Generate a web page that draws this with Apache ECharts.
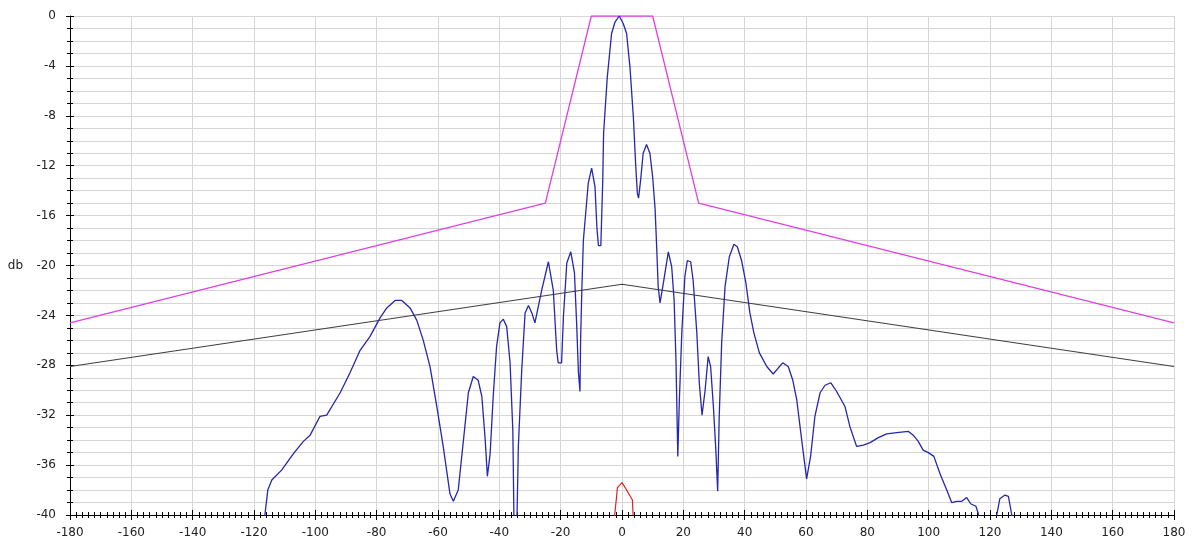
<!DOCTYPE html>
<html>
<head>
<meta charset="utf-8">
<script src="https://cdn.jsdelivr.net/npm/echarts@6/dist/echarts.min.js"></script>
<style>
html,body{margin:0;padding:0;background:#fff;}
#chart{width:1192px;height:547px;}
</style>
</head>
<body>
<div id="chart"></div>
<script>
// Angle (deg) / level (db) pairs
var maskData = [[-180,-24.6],[-25,-15],[-10,0],[10,0],[25,-15],[180,-24.6]];
var limitData = [[-180,-28.1],[0,-21.5],[180,-28.1]];
var redData = [[-2.6,-40.5],[-1.8,-38.6],[-1.5,-37.8],[0,-37.4],[1.5,-38.0],[3.4,-38.8],[3.7,-40.5]];
var blueData = [
  [-116.8,-40.5],[-116.4,-39.9],[-115.5,-38.0],[-114.2,-37.2],[-111.0,-36.4],[-107.2,-35.1],
  [-103.9,-34.1],[-101.7,-33.6],[-98.5,-32.1],[-96.3,-32.0],[-91.9,-30.2],[-88.7,-28.6],
  [-85.4,-26.8],[-82.2,-25.7],[-78.9,-24.2],[-76.7,-23.4],[-74.0,-22.8],[-71.8,-22.8],
  [-69.1,-23.4],[-66.9,-24.4],[-64.8,-26.0],[-62.6,-28.1],[-60.4,-31.3],[-58.3,-34.5],
  [-56.1,-38.3],[-55.0,-38.9],[-53.4,-38.0],[-51.7,-34.0],[-50.1,-30.2],[-48.5,-28.9],
  [-46.9,-29.2],[-45.7,-30.5],[-44.6,-34.0],[-43.9,-36.9],[-43.0,-35.1],[-42.0,-30.5],
  [-40.9,-26.5],[-39.8,-24.6],[-38.7,-24.3],[-37.6,-24.9],[-36.5,-27.8],[-35.6,-33.2],
  [-35.2,-41],[-34.3,-41],[-33.8,-34.5],[-32.7,-28.4],[-31.6,-23.8],[-30.5,-23.2],
  [-29.4,-23.8],[-28.4,-24.6],[-26.2,-22.0],[-24.0,-19.7],[-22.4,-22.0],[-21.3,-26.8],
  [-20.8,-27.8],[-19.7,-27.8],[-19.1,-24.1],[-18.0,-19.8],[-16.7,-18.9],[-15.5,-20.6],
  [-14.8,-24.6],[-14.2,-28.6],[-13.7,-30.1],[-13.5,-26.0],[-13.1,-22.0],[-12.6,-18.0],
  [-11.0,-13.4],[-9.9,-12.2],[-9.4,-12.3],[-8.8,-13.7],[-8.2,-16.9],[-7.7,-18.4],
  [-6.9,-18.4],[-6.3,-13.4],[-6.0,-9.4],[-4.8,-4.9],[-3.4,-1.4],[-2.3,-0.5],
  [-0.9,0],[0.4,-0.6],[1.5,-1.4],[2.6,-4.1],[3.7,-8.1],[4.5,-12.1],
  [5.0,-14.2],[5.4,-14.6],[6.1,-13.1],[6.9,-11.0],[8.0,-10.3],[9.1,-11.0],
  [10.0,-12.9],[10.8,-15.5],[11.3,-18.5],[11.8,-21.7],[12.4,-23.0],[13.5,-21.4],
  [15.1,-18.9],[16.2,-20.1],[17.0,-22.8],[17.6,-27.6],[18.2,-35.3],[18.7,-30.8],
  [19.5,-25.4],[20.5,-20.9],[21.3,-19.6],[22.4,-19.7],[23.2,-21.2],[24.4,-25.4],
  [25.2,-29.4],[26.1,-32.0],[27.1,-30.0],[28.1,-27.3],[28.9,-28.1],[29.8,-31.3],
  [30.6,-34.8],[31.2,-38.1],[31.7,-32.1],[32.5,-26.2],[33.6,-21.7],[35.0,-19.3],
  [36.5,-18.3],[37.6,-18.5],[39.0,-19.6],[40.4,-21.4],[41.7,-23.8],[43.0,-25.4],
  [44.8,-27.0],[47.2,-28.1],[49.3,-28.7],[51.0,-28.2],[52.4,-27.8],[54.2,-28.1],
  [55.7,-29.2],[57.0,-30.8],[58.6,-34.0],[60.2,-37.1],[61.5,-35.3],[62.9,-32.1],
  [64.6,-30.2],[66.2,-29.6],[68.1,-29.4],[70.0,-30.1],[72.7,-31.3],[74.3,-32.9],
  [76.5,-34.5],[78.7,-34.4],[80.9,-34.2],[83.6,-33.8],[86.3,-33.5],[89.6,-33.4],
  [93.4,-33.3],[95.0,-33.6],[96.6,-34.1],[98.2,-34.8],[99.9,-35.0],[101.7,-35.3],
  [103.7,-36.7],[105.9,-38.0],[107.5,-39.0],[109.1,-38.9],[110.8,-38.9],[112.4,-38.6],
  [113.7,-39.1],[115.4,-39.3],[116.2,-39.9],[116.6,-41],[121.8,-41],[122.2,-40],
  [123.2,-38.7],[124.9,-38.4],[126.0,-38.5],[127.1,-40],[127.4,-41]
];
var xMin = -180, xMax = 180, xStep = 20;
var yMin = -40, yMax = 0, yStep = 4;
var yName = 'db';

var chart = echarts.init(document.getElementById('chart'), null, {renderer:'canvas'});
var font = {fontFamily:'DejaVu Sans', fontSize:12, color:'#222'};
var gridColor = '#d6d6d6';
var option = {
  animation:false,
  backgroundColor:'#ffffff',
  grid:{left:70, right:18, top:16, bottom:32, containLabel:false},
  xAxis:[{
    type:'value', min:xMin, max:xMax, interval:xStep,
    axisLine:{show:true, onZero:false, lineStyle:{color:'#000', width:1}},
    axisTick:{show:true, length:5, lineStyle:{color:'#000'}},
    minorTick:{show:true, splitNumber:10, length:3, lineStyle:{color:'#000'}},
    axisLabel:Object.assign({margin:12}, font),
    splitLine:{show:true, lineStyle:{color:gridColor, width:1}}
  },{
    type:'value', min:xMin, max:xMax, interval:xStep, position:'bottom',
    axisLine:{show:false, onZero:false},
    axisTick:{show:true, inside:true, length:5, lineStyle:{color:'#000'}},
    minorTick:{show:true, splitNumber:10, length:3, lineStyle:{color:'#000'}},
    axisLabel:{show:false}, splitLine:{show:false}
  }],
  yAxis:[{
    type:'value', min:yMin, max:yMax, interval:yStep,
    name:yName, nameLocation:'middle', nameRotate:0, nameGap:47,
    nameTextStyle:{fontFamily:'DejaVu Sans', fontSize:12, color:'#222', align:'right', verticalAlign:'middle'},
    axisLine:{show:true, onZero:false, lineStyle:{color:'#000', width:1}},
    axisTick:{show:true, length:4, lineStyle:{color:'#000'}},
    minorTick:{show:true, splitNumber:4, length:3, lineStyle:{color:'#000'}},
    axisLabel:Object.assign({margin:14}, font),
    splitLine:{show:true, lineStyle:{color:gridColor, width:1}},
    minorSplitLine:{show:true, lineStyle:{color:gridColor, width:1}}
  },{
    type:'value', min:yMin, max:yMax, interval:yStep, position:'left',
    axisLine:{show:false, onZero:false},
    axisTick:{show:true, inside:true, length:4, lineStyle:{color:'#000'}},
    minorTick:{show:true, splitNumber:4, length:3, lineStyle:{color:'#000'}},
    axisLabel:{show:false}, splitLine:{show:false}
  }],
  series:[
    {type:'line', data:maskData, showSymbol:false, clip:true, lineStyle:{color:'#e040e0', width:1.3}, z:3},
    {type:'line', data:limitData, showSymbol:false, clip:true, lineStyle:{color:'#404040', width:1.1}, z:3},
    {type:'line', data:redData, showSymbol:false, clip:true, lineStyle:{color:'#e02020', width:1.2}, z:3},
    {type:'line', data:blueData, showSymbol:false, clip:true, lineStyle:{color:'#2626b0', width:1.3}, z:4}
  ]
};
chart.setOption(option);
</script>
</body>
</html>
